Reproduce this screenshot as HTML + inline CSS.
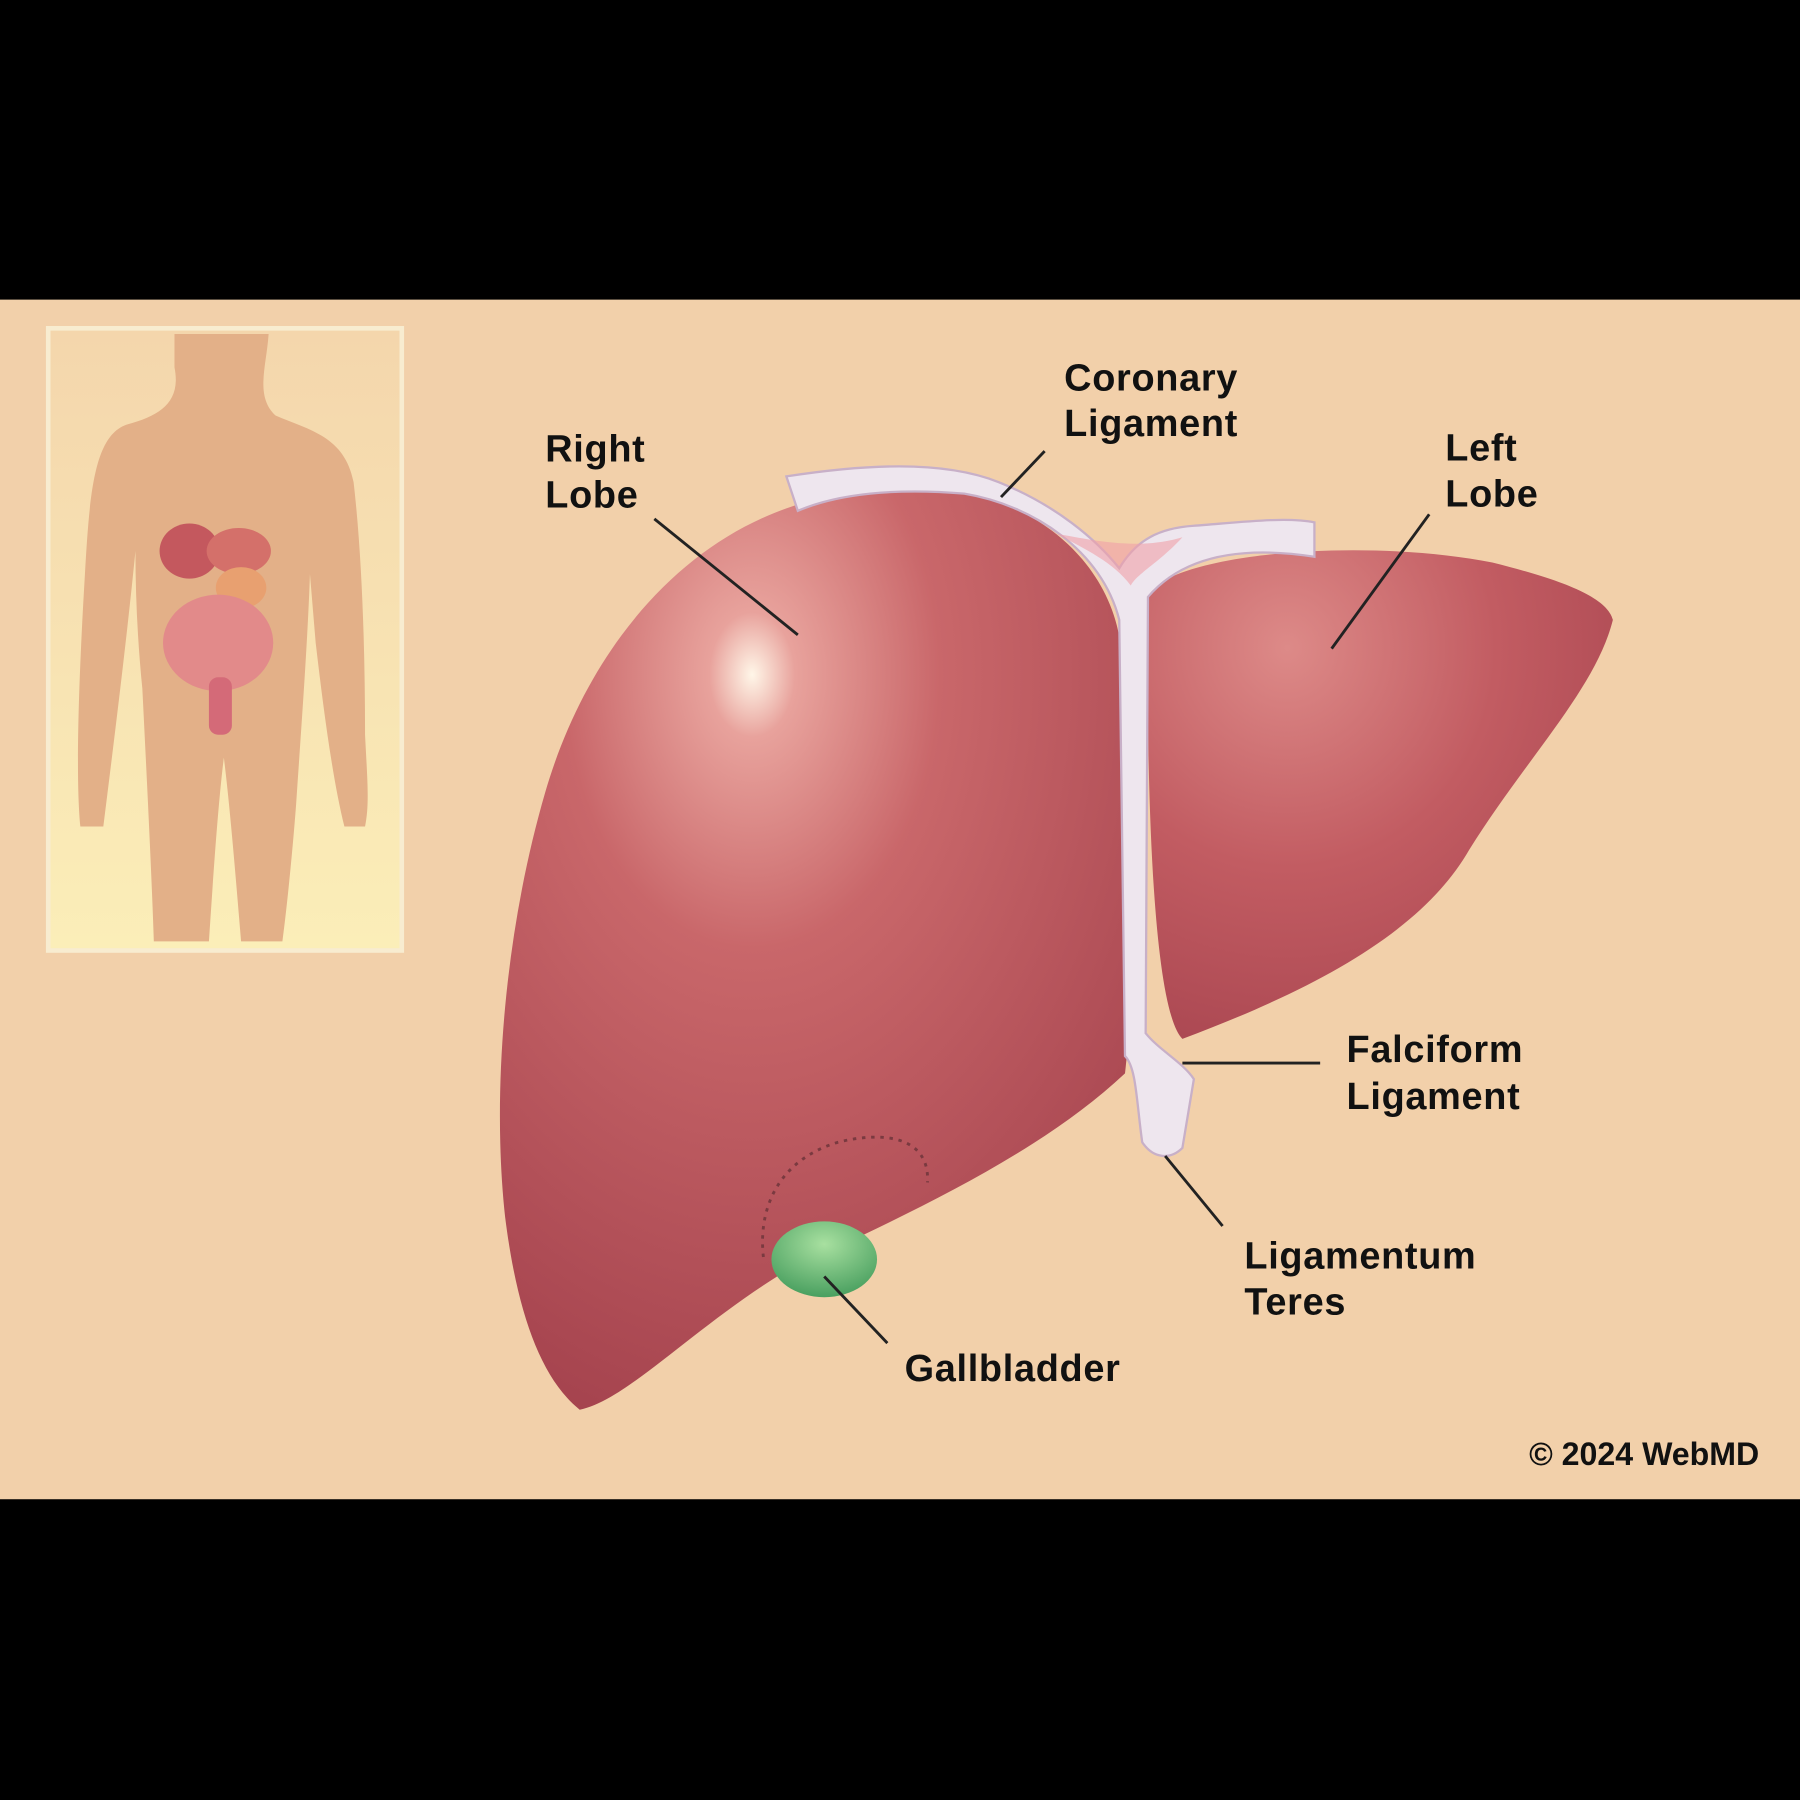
<!DOCTYPE html>
<html><head><style>
html,body{margin:0;padding:0;background:#000;}
svg{display:block;}
text{font-family:"Liberation Sans",Arial,sans-serif;font-weight:bold;fill:#111;font-size:33px;letter-spacing:0.6px;}
</style></head><body>
<svg width="1800" height="1800" viewBox="0 0 1568 1568" xmlns="http://www.w3.org/2000/svg">
<defs>
<radialGradient id="rl" cx="0.4" cy="0.2" r="0.85">
<stop offset="0" stop-color="#fff6e8"/>
<stop offset="0.08" stop-color="#e8a29c"/>
<stop offset="0.35" stop-color="#c9676a"/>
<stop offset="1" stop-color="#a5434e"/>
</radialGradient>
<radialGradient id="ll" cx="0.3" cy="0.2" r="0.9">
<stop offset="0" stop-color="#dd8a88"/>
<stop offset="0.5" stop-color="#c25c62"/>
<stop offset="1" stop-color="#a84550"/>
</radialGradient>
<radialGradient id="gb" cx="0.5" cy="0.3" r="0.7">
<stop offset="0" stop-color="#a8e0a0"/>
<stop offset="1" stop-color="#4aa060"/>
</radialGradient>
<linearGradient id="inset" x1="0" y1="0" x2="0" y2="1">
<stop offset="0" stop-color="#f4d6ac"/>
<stop offset="1" stop-color="#fbeeb8"/>
</linearGradient>
</defs>
<rect x="0" y="0" width="1568" height="1568" fill="#000"/>
<rect x="0" y="261" width="1568" height="1045" fill="#f2d0aa"/>
<rect x="42" y="286" width="308" height="542" fill="url(#inset)" stroke="#f8ecd0" stroke-width="4"/>
<path d="M152,291 L234,291 C232,320 222,345 240,362 C270,375 300,380 308,420 C315,480 318,560 318,640 C320,680 322,700 318,720 L300,720 C290,680 282,620 275,560 L270,500 C268,560 262,640 258,700 C255,740 250,790 246,820 L210,820 C205,760 200,700 195,660 C190,700 186,760 182,820 L134,820 C132,760 128,680 124,600 C120,560 118,520 118,480 C110,560 100,640 90,720 L70,720 C66,680 68,600 74,500 C78,430 82,380 110,370 C140,362 158,350 152,320 Z" fill="#e3b088"/>
<ellipse cx="165" cy="480" rx="26" ry="24" fill="#c4585e"/>
<ellipse cx="208" cy="480" rx="28" ry="20" fill="#d4706a"/>
<ellipse cx="210" cy="512" rx="22" ry="18" fill="#e8a070"/>
<ellipse cx="190" cy="560" rx="48" ry="42" fill="#e28a8a"/>
<rect x="182" y="590" width="20" height="50" rx="8" fill="#d46a78"/>
<!-- liver -->
<path d="M700,438 C590,470 510,570 475,690 C440,810 428,950 440,1060 C450,1140 470,1200 505,1228 C545,1220 600,1160 680,1110 C780,1062 900,1010 980,935 C990,850 982,700 976,560 C966,490 905,440 840,430 C790,425 740,428 700,438 Z" fill="url(#rl)"/>
<path d="M1000,515 C1040,478 1200,470 1300,490 C1360,505 1400,520 1405,540 C1390,600 1330,660 1280,740 C1240,810 1150,860 1030,905 C1005,880 998,700 1000,515 Z" fill="url(#ll)"/>
<path d="M685,415 C750,405 820,400 870,420 C920,440 955,470 975,495 C990,470 1010,460 1040,458 C1080,455 1120,450 1145,455 L1145,485 C1080,475 1030,485 1000,520 L998,900 C1010,915 1030,925 1040,940 L1030,1000 C1020,1010 1005,1010 995,995 C990,960 990,930 980,920 L975,540 C960,480 900,440 840,430 C780,425 730,430 695,445 Z" fill="#eee6ee" stroke="#c8b0c8" stroke-width="2"/>
<path d="M920,465 C950,470 990,480 1030,468 C1010,490 990,500 985,510 C970,490 945,478 920,465 Z" fill="#f0a0a8" opacity="0.6"/>
<ellipse cx="718" cy="1097" rx="46" ry="33" fill="url(#gb)"/>
<path d="M665,1095 C660,1050 680,1010 730,995 C770,985 810,990 808,1030" fill="none" stroke="#7a3a40" stroke-width="2.5" stroke-dasharray="3,5"/>
<g stroke="#222" stroke-width="2.5">
<line x1="570" y1="452" x2="695" y2="553"/>
<line x1="910" y1="393" x2="872" y2="433"/>
<line x1="1245" y1="448" x2="1160" y2="565"/>
<line x1="1030" y1="926" x2="1150" y2="926"/>
<line x1="1015" y1="1007" x2="1065" y2="1068"/>
<line x1="718" y1="1112" x2="773" y2="1170"/>
</g>
<text x="475" y="402">Right</text>
<text x="475" y="442">Lobe</text>
<text x="927" y="340">Coronary</text>
<text x="927" y="380">Ligament</text>
<text x="1259" y="401">Left</text>
<text x="1259" y="441">Lobe</text>
<text x="1173" y="925">Falciform</text>
<text x="1173" y="966">Ligament</text>
<text x="1084" y="1105">Ligamentum</text>
<text x="1084" y="1145">Teres</text>
<text x="788" y="1203">Gallbladder</text>
<text x="1332" y="1276" style="font-size:28px;letter-spacing:0">© 2024 WebMD</text>
</svg>
</body></html>
